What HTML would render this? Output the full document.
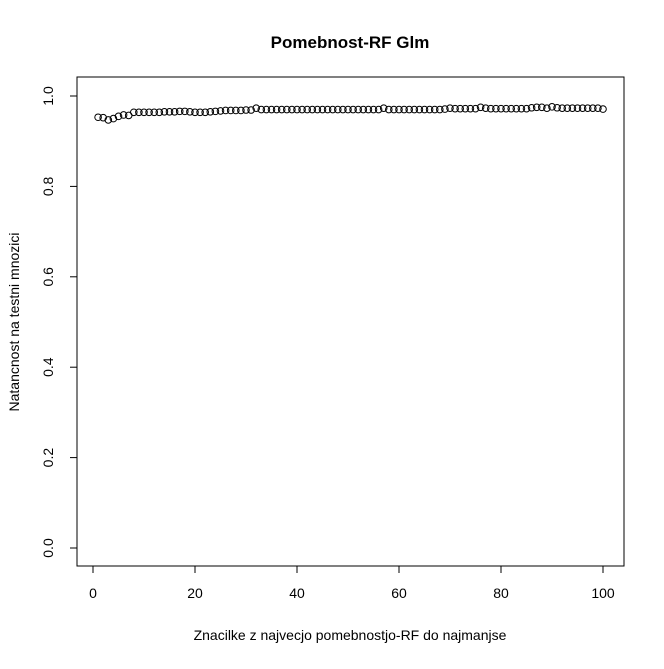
<!DOCTYPE html>
<html><head><meta charset="utf-8"><style>
body{margin:0;background:#fff}
svg{font-family:"Liberation Sans",Arial,sans-serif}
</style></head><body>
<svg id="c" width="664" height="664">
<text x="350" y="48" text-anchor="middle" font-size="17" font-weight="bold">Pomebnost-RF Glm</text>
<rect x="77" y="77" width="547" height="489" fill="none" stroke="#000"/>
<text x="350" y="640" text-anchor="middle" font-size="14">Znacilke z najvecjo pomebnostjo-RF do najmanjse</text>
<text transform="translate(19,322) rotate(-90)" text-anchor="middle" font-size="14">Natancnost na testni mnozici</text>
<g id="ax"></g><g id="pts"></g>
</svg>
<script>
const xTicks=[0,20,40,60,80,100];
const yTicks=[0.0,0.2,0.4,0.6,0.8,1.0];
const yTickLabels=["0.0","0.2","0.4","0.6","0.8","1.0"];
const accuracy=[0.953,0.952,0.947,0.950,0.955,0.958,0.957,0.964,0.964,0.964,0.964,0.964,0.964,0.965,0.965,0.965,0.966,0.966,0.965,0.964,0.964,0.964,0.965,0.966,0.967,0.968,0.968,0.968,0.968,0.969,0.969,0.973,0.970,0.970,0.970,0.970,0.970,0.970,0.970,0.970,0.970,0.970,0.970,0.970,0.970,0.970,0.970,0.970,0.970,0.970,0.970,0.970,0.970,0.970,0.970,0.970,0.973,0.970,0.970,0.970,0.970,0.970,0.970,0.970,0.970,0.970,0.970,0.970,0.971,0.973,0.972,0.972,0.972,0.972,0.972,0.975,0.973,0.972,0.972,0.972,0.972,0.972,0.972,0.972,0.972,0.974,0.975,0.975,0.973,0.976,0.974,0.973,0.973,0.973,0.973,0.973,0.973,0.973,0.973,0.971];
const sx=v=>93+v*5.1, sy=v=>548-v*452;
const NS="http://www.w3.org/2000/svg";
const ax=document.getElementById('ax'), pts=document.getElementById('pts');
function mk(t,a,p){const e=document.createElementNS(NS,t);for(const k in a)e.setAttribute(k,a[k]);p.appendChild(e);return e;}
mk('line',{x1:sx(0),x2:sx(100),y1:566,y2:566,stroke:'#000'},ax);
xTicks.forEach(v=>{const l=mk('line',{x1:sx(v),x2:sx(v),y1:566,y2:573,stroke:'#000'},ax);


const t=mk('text',{x:sx(v),y:598,'text-anchor':'middle','font-size':14},ax);t.textContent=v;

});
mk('line',{x1:77,x2:77,y1:sy(0),y2:sy(1),stroke:'#000'},ax);
yTicks.forEach((v,i)=>{const l=mk('line',{x1:70,x2:77,y1:sy(v),y2:sy(v),stroke:'#000'},ax);


const t=mk('text',{transform:`translate(53,${sy(v)}) rotate(-90)`,'text-anchor':'middle','font-size':14},ax);t.textContent=yTickLabels[i];

});
accuracy.forEach((v,i)=>{const c=mk('circle',{cx:sx(i+1),cy:sy(v),r:3.3,fill:'none',stroke:'#000','stroke-width':1},pts);

});
</script>
</body></html>
